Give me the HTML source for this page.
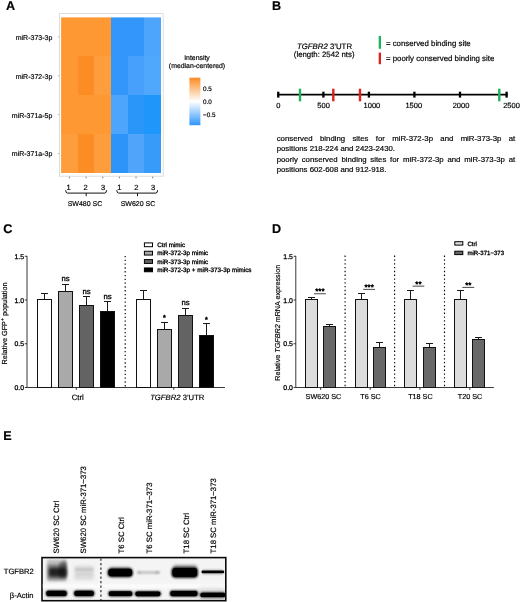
<!DOCTYPE html>
<html><head><meta charset="utf-8"><title>Figure</title>
<style>
html,body{margin:0;padding:0;background:#fff;}
body{width:520px;height:602px;overflow:hidden;}
svg{display:block;font-family:"Liberation Sans",Arial,sans-serif;fill:#000;}
svg text{stroke:#000;stroke-width:0.18px;text-rendering:geometricPrecision;}
.b{font-weight:bold;font-size:12.6px;fill:#000}
.i{font-style:italic}
#para{position:absolute;left:276.7px;top:0;width:238.5px;font-family:"Liberation Sans",Arial,sans-serif;font-size:7.8px;line-height:10px;color:#000;-webkit-text-stroke:0.18px #000;text-align:justify;}
#para p{margin:0 0 1.2px 0;}
#para span{display:block;white-space:nowrap;position:absolute;left:0;width:238.5px;}
#para .j{text-align:justify;text-align-last:justify;white-space:normal;}
</style></head><body>
<svg width="520" height="602" viewBox="0 0 520 602">
<defs>
<linearGradient id="cb" x1="0" y1="0" x2="0" y2="1">
<stop offset="0" stop-color="#fa8c23"/><stop offset="0.5" stop-color="#ffffff"/><stop offset="1" stop-color="#2f96fa"/>
</linearGradient>
<filter id="bl1" x="-30%" y="-80%" width="160%" height="260%"><feGaussianBlur stdDeviation="1.6"/></filter>
<filter id="bl2" x="-30%" y="-80%" width="160%" height="260%"><feGaussianBlur stdDeviation="0.9"/></filter>
<filter id="bl4" x="-5%" y="-100%" width="110%" height="300%"><feGaussianBlur stdDeviation="0.8"/></filter>
<filter id="bl5" x="-30%" y="-80%" width="160%" height="260%"><feGaussianBlur stdDeviation="0.5"/></filter>
<clipPath id="blotclip"><rect x="42.8" y="558.4" width="182.2" height="41.5"/></clipPath>
<filter id="bl3" x="-30%" y="-80%" width="160%" height="260%"><feGaussianBlur stdDeviation="2.4"/></filter>
</defs>

<text class="b" x="5.9" y="9.6">A</text>
<rect x="59.4" y="13.6" width="103.79999999999998" height="162.6" fill="#fff" stroke="#d6d6d6" stroke-width="0.8"/>
<rect x="61.1" y="17.4" width="16.90" height="38.60" fill="#fd9832"/>
<rect x="78" y="17.4" width="16.00" height="38.60" fill="#fd9832"/>
<rect x="94" y="17.4" width="17.00" height="38.60" fill="#fd9832"/>
<rect x="111" y="17.4" width="17.00" height="38.60" fill="#3396fa"/>
<rect x="128" y="17.4" width="16.00" height="38.60" fill="#3396fa"/>
<rect x="144" y="17.4" width="17.00" height="38.60" fill="#4da5fc"/>
<rect x="61.1" y="56" width="16.90" height="39.00" fill="#fd9832"/>
<rect x="78" y="56" width="16.00" height="39.00" fill="#fb8d24"/>
<rect x="94" y="56" width="17.00" height="39.00" fill="#fe9d3c"/>
<rect x="111" y="56" width="17.00" height="39.00" fill="#3396fa"/>
<rect x="128" y="56" width="16.00" height="39.00" fill="#46a0fc"/>
<rect x="144" y="56" width="17.00" height="39.00" fill="#50a8fd"/>
<rect x="61.1" y="95" width="16.90" height="39.00" fill="#fd9832"/>
<rect x="78" y="95" width="16.00" height="39.00" fill="#fd9832"/>
<rect x="94" y="95" width="17.00" height="39.00" fill="#fd9832"/>
<rect x="111" y="95" width="17.00" height="39.00" fill="#4da5fc"/>
<rect x="128" y="95" width="16.00" height="39.00" fill="#2a96fa"/>
<rect x="144" y="95" width="17.00" height="39.00" fill="#1e96fa"/>
<rect x="61.1" y="134" width="16.90" height="39.00" fill="#fe9d3c"/>
<rect x="78" y="134" width="16.00" height="39.00" fill="#fb8d24"/>
<rect x="94" y="134" width="17.00" height="39.00" fill="#fe9d3c"/>
<rect x="111" y="134" width="17.00" height="39.00" fill="#2d94fa"/>
<rect x="128" y="134" width="16.00" height="39.00" fill="#50a5fa"/>
<rect x="144" y="134" width="17.00" height="39.00" fill="#379bfa"/>
<text x="52.3" y="39.75" font-size="7" text-anchor="end">miR-373-3p</text>
<line x1="57.8" x2="59.2" y1="36.85" y2="36.85" stroke="#999" stroke-width="0.7"/>
<text x="52.3" y="78.65" font-size="7" text-anchor="end">miR-372-3p</text>
<line x1="57.8" x2="59.2" y1="75.75" y2="75.75" stroke="#999" stroke-width="0.7"/>
<text x="52.3" y="117.55" font-size="7" text-anchor="end">miR-371a-5p</text>
<line x1="57.8" x2="59.2" y1="114.65" y2="114.65" stroke="#999" stroke-width="0.7"/>
<text x="52.3" y="156.45" font-size="7" text-anchor="end">miR-371a-3p</text>
<line x1="57.8" x2="59.2" y1="153.55" y2="153.55" stroke="#999" stroke-width="0.7"/>
<line x1="69.42" x2="69.42" y1="176.7" y2="178.3" stroke="#555" stroke-width="0.8"/>
<text x="68.5" y="190.2" font-size="7.5" text-anchor="middle">1</text>
<line x1="86.08" x2="86.08" y1="176.7" y2="178.3" stroke="#555" stroke-width="0.8"/>
<text x="85.5" y="190.2" font-size="7.5" text-anchor="middle">2</text>
<line x1="102.73" x2="102.73" y1="176.7" y2="178.3" stroke="#555" stroke-width="0.8"/>
<text x="103" y="190.2" font-size="7.5" text-anchor="middle">3</text>
<line x1="119.38" x2="119.38" y1="176.7" y2="178.3" stroke="#555" stroke-width="0.8"/>
<text x="119.3" y="190.2" font-size="7.5" text-anchor="middle">1</text>
<line x1="136.03" x2="136.03" y1="176.7" y2="178.3" stroke="#555" stroke-width="0.8"/>
<text x="136.3" y="190.2" font-size="7.5" text-anchor="middle">2</text>
<line x1="152.68" x2="152.68" y1="176.7" y2="178.3" stroke="#555" stroke-width="0.8"/>
<text x="153.2" y="190.2" font-size="7.5" text-anchor="middle">3</text>
<path d="M65.7 190.2 Q65.7 193.1 67.5 193.1 L104.7 193.1 Q106.5 193.1 106.5 190.2 M86.2 193.1 L86.2 196.2" fill="none" stroke="#111" stroke-width="1"/>
<path d="M116.8 190.2 Q116.8 193.1 118.6 193.1 L155.79999999999998 193.1 Q157.6 193.1 157.6 190.2 M137.5 193.1 L137.5 196.2" fill="none" stroke="#111" stroke-width="1"/>
<text x="85" y="206.3" font-size="7" text-anchor="middle">SW480 SC</text>
<text x="138" y="206.3" font-size="7" text-anchor="middle">SW620 SC</text>
<text x="197" y="59.8" font-size="6.9" text-anchor="middle">Intensity</text>
<text x="197" y="68.2" font-size="6.9" text-anchor="middle">(median-centered)</text>
<rect x="189.4" y="77.7" width="11" height="47.5" fill="url(#cb)"/>
<text x="203" y="91.4" font-size="6.35">0.5</text>
<text x="203" y="104.10000000000001" font-size="6.35">0.0</text>
<text x="203" y="116.60000000000001" font-size="6.35">−0.5</text>
<text class="b" x="271.9" y="9.6">B</text>
<text x="324.5" y="48.5" font-size="7.8" text-anchor="middle"><tspan class="i">TGFBR2</tspan> 3’UTR</text>
<text x="324.2" y="57.3" font-size="7.8" text-anchor="middle">(length: 2542 nts)</text>
<rect x="378.7" y="35.9" width="2.3" height="12.9" fill="#1fb25a"/>
<rect x="378.7" y="52.6" width="2.3" height="11.6" fill="#e0201c"/>
<text x="385.9" y="45.8" font-size="7.85">= conserved binding site</text>
<text x="385.9" y="60.5" font-size="7.85">= poorly conserved binding site</text>
<line x1="277.4" x2="507.6" y1="94.6" y2="94.6" stroke="#000" stroke-width="1.7"/>
<rect x="277.1" y="91.7" width="2.3" height="5.9" fill="#000"/>
<text x="278.25" y="107.6" font-size="7.5" text-anchor="middle">0</text>
<rect x="322.25" y="91.7" width="2.3" height="5.9" fill="#000"/>
<text x="323.59999999999997" y="107.6" font-size="7.5" text-anchor="middle">500</text>
<rect x="367.75" y="91.7" width="2.3" height="5.9" fill="#000"/>
<text x="371.9" y="107.6" font-size="7.5" text-anchor="middle">1000</text>
<rect x="413.25" y="91.7" width="2.3" height="5.9" fill="#000"/>
<text x="413.79999999999995" y="107.6" font-size="7.5" text-anchor="middle">1500</text>
<rect x="458.85" y="91.7" width="2.3" height="5.9" fill="#000"/>
<text x="461.0" y="107.6" font-size="7.5" text-anchor="middle">2000</text>
<rect x="505.45000000000005" y="91.7" width="2.3" height="5.9" fill="#000"/>
<text x="503.2" y="107.6" font-size="7.5">2500</text>
<rect x="298.8" y="88.7" width="2.4" height="12.6" fill="#1fb25a"/>
<rect x="498.1" y="88.7" width="2.4" height="12.6" fill="#1fb25a"/>
<rect x="332.1" y="88.7" width="2.4" height="12.6" fill="#e0201c"/>
<rect x="358.8" y="88.7" width="2.4" height="12.6" fill="#e0201c"/>
<text class="b" x="3.3" y="233.1">C</text>
<path d="M27 255.85 L27 387.5 L225 387.5" fill="none" stroke="#222" stroke-width="0.9"/><line x1="24.8" x2="27" y1="387.5" y2="387.5" stroke="#222" stroke-width="0.9"/><text x="24.1" y="390.0" font-size="6.9" text-anchor="end" style="stroke-width:0.28px">0.0</text><line x1="24.8" x2="27" y1="343.75" y2="343.75" stroke="#222" stroke-width="0.9"/><text x="24.1" y="346.25" font-size="6.9" text-anchor="end" style="stroke-width:0.28px">0.5</text><line x1="24.8" x2="27" y1="300.0" y2="300.0" stroke="#222" stroke-width="0.9"/><text x="24.1" y="302.5" font-size="6.9" text-anchor="end" style="stroke-width:0.28px">1.0</text><line x1="24.8" x2="27" y1="256.25" y2="256.25" stroke="#222" stroke-width="0.9"/><text x="24.1" y="258.75" font-size="6.9" text-anchor="end" style="stroke-width:0.28px">1.5</text><line x1="76.3" x2="76.3" y1="387.5" y2="389.9" stroke="#222" stroke-width="0.9"/><line x1="173.8" x2="173.8" y1="387.5" y2="389.9" stroke="#222" stroke-width="0.9"/>
<line x1="125.2" x2="125.2" y1="255.9" y2="387.5" stroke="#000" stroke-width="1.15" stroke-dasharray="1.35 2.45"/>
<path d="M44.5 299.5 L44.5 293.5 M41.0 293.5 L48.0 293.5" stroke="#1a1a1a" stroke-width="1" fill="none"/><rect x="37.5" y="299.5" width="14" height="88.0" fill="#fff" stroke="#111" stroke-width="1"/>
<path d="M65.5 291.5 L65.5 284.5 M62.0 284.5 L69.0 284.5" stroke="#1a1a1a" stroke-width="1" fill="none"/><rect x="58.5" y="291.5" width="14" height="96.0" fill="#a9a9a9" stroke="#111" stroke-width="1"/>
<path d="M86.5 305.5 L86.5 296.5 M83.0 296.5 L90.0 296.5" stroke="#1a1a1a" stroke-width="1" fill="none"/><rect x="79.5" y="305.5" width="14" height="82.0" fill="#636363" stroke="#111" stroke-width="1"/>
<path d="M107.5 311.5 L107.5 301.5 M104.0 301.5 L111.0 301.5" stroke="#1a1a1a" stroke-width="1" fill="none"/><rect x="100.5" y="311.5" width="14" height="76.0" fill="#000" stroke="#111" stroke-width="1"/>
<path d="M143.5 299.5 L143.5 290.5 M140.0 290.5 L147.0 290.5" stroke="#1a1a1a" stroke-width="1" fill="none"/><rect x="136.5" y="299.5" width="14" height="88.0" fill="#fff" stroke="#111" stroke-width="1"/>
<path d="M164.5 329.5 L164.5 322.5 M161.0 322.5 L168.0 322.5" stroke="#1a1a1a" stroke-width="1" fill="none"/><rect x="157.5" y="329.5" width="14" height="58.0" fill="#a9a9a9" stroke="#111" stroke-width="1"/>
<path d="M185.5 315.5 L185.5 308.5 M182.0 308.5 L189.0 308.5" stroke="#1a1a1a" stroke-width="1" fill="none"/><rect x="178.5" y="315.5" width="14" height="72.0" fill="#636363" stroke="#111" stroke-width="1"/>
<path d="M206.5 335.5 L206.5 323.5 M203.0 323.5 L210.0 323.5" stroke="#1a1a1a" stroke-width="1" fill="none"/><rect x="199.5" y="335.5" width="14" height="52.0" fill="#000" stroke="#111" stroke-width="1"/>
<text x="65.6" y="280.9" font-size="7.7" text-anchor="middle" style="stroke-width:0.32px">ns</text>
<text x="86.6" y="294.15" font-size="7.7" text-anchor="middle" style="stroke-width:0.32px">ns</text>
<text x="107.6" y="299.15" font-size="7.7" text-anchor="middle" style="stroke-width:0.32px">ns</text>
<text x="185.6" y="305.4" font-size="7.7" text-anchor="middle" style="stroke-width:0.32px">ns</text>
<text x="164.5" y="320.05" font-size="7.2" text-anchor="middle" style="stroke-width:0.5px">*</text>
<text x="206.5" y="321.55" font-size="7.2" text-anchor="middle" style="stroke-width:0.5px">*</text>
<text x="77.8" y="400.2" font-size="7.7" text-anchor="middle">Ctrl</text>
<text x="177.3" y="400.2" font-size="7.7" text-anchor="middle"><tspan class="i">TGFBR2</tspan> 3’UTR</text>
<text transform="translate(6.9 323.4) rotate(-90)" font-size="7.3" text-anchor="middle">Relative GFP<tspan font-size="5" dy="-2.6">+</tspan><tspan dy="2.6"> population</tspan></text>
<rect x="144.4" y="242.9" width="8.1" height="3.8" fill="#fff" stroke="#000" stroke-width="1"/>
<text x="157.2" y="247.0" font-size="6.3" style="stroke-width:0.3px">Ctrl mimic</text>
<rect x="144.4" y="251.25" width="8.1" height="3.8" fill="#a9a9a9" stroke="#000" stroke-width="1"/>
<text x="157.2" y="255.35" font-size="6.3" style="stroke-width:0.3px">miR-372-3p mimic</text>
<rect x="144.4" y="259.6" width="8.1" height="3.8" fill="#636363" stroke="#000" stroke-width="1"/>
<text x="157.2" y="263.7" font-size="6.3" style="stroke-width:0.3px">miR-373-3p mimic</text>
<rect x="144.4" y="267.95000000000005" width="8.1" height="3.8" fill="#000" stroke="#000" stroke-width="1"/>
<text x="157.2" y="272.05" font-size="6.3" style="stroke-width:0.3px">miR-372-3p + miR-373-3p mimics</text>
<text class="b" x="271.9" y="233.1">D</text>
<path d="M295.8 255.85 L295.8 387.5 L493.8 387.5" fill="none" stroke="#222" stroke-width="0.9"/><line x1="293.6" x2="295.8" y1="387.5" y2="387.5" stroke="#222" stroke-width="0.9"/><text x="292.90000000000003" y="390.0" font-size="6.9" text-anchor="end" style="stroke-width:0.28px">0.0</text><line x1="293.6" x2="295.8" y1="343.75" y2="343.75" stroke="#222" stroke-width="0.9"/><text x="292.90000000000003" y="346.25" font-size="6.9" text-anchor="end" style="stroke-width:0.28px">0.5</text><line x1="293.6" x2="295.8" y1="300.0" y2="300.0" stroke="#222" stroke-width="0.9"/><text x="292.90000000000003" y="302.5" font-size="6.9" text-anchor="end" style="stroke-width:0.28px">1.0</text><line x1="293.6" x2="295.8" y1="256.25" y2="256.25" stroke="#222" stroke-width="0.9"/><text x="292.90000000000003" y="258.75" font-size="6.9" text-anchor="end" style="stroke-width:0.28px">1.5</text><line x1="320.7" x2="320.7" y1="387.5" y2="389.9" stroke="#222" stroke-width="0.9"/><line x1="370.2" x2="370.2" y1="387.5" y2="389.9" stroke="#222" stroke-width="0.9"/><line x1="419.9" x2="419.9" y1="387.5" y2="389.9" stroke="#222" stroke-width="0.9"/><line x1="469.8" x2="469.8" y1="387.5" y2="389.9" stroke="#222" stroke-width="0.9"/>
<line x1="345.1" x2="345.1" y1="255.6" y2="387.5" stroke="#000" stroke-width="1.15" stroke-dasharray="1.35 2.45"/>
<line x1="394.6" x2="394.6" y1="255.6" y2="387.5" stroke="#000" stroke-width="1.15" stroke-dasharray="1.35 2.45"/>
<line x1="444.5" x2="444.5" y1="255.6" y2="387.5" stroke="#000" stroke-width="1.15" stroke-dasharray="1.35 2.45"/>
<path d="M311.5 299.5 L311.5 297.5 M308.0 297.5 L315.0 297.5" stroke="#1a1a1a" stroke-width="1" fill="none"/><rect x="305.5" y="299.5" width="12" height="88.0" fill="#dcdcdc" stroke="#111" stroke-width="1"/>
<path d="M329.5 326.5 L329.5 324.5 M326.0 324.5 L333.0 324.5" stroke="#1a1a1a" stroke-width="1" fill="none"/><rect x="323.5" y="326.5" width="12" height="61.0" fill="#686868" stroke="#111" stroke-width="1"/>
<path d="M361.5 299.5 L361.5 293.5 M358.0 293.5 L365.0 293.5" stroke="#1a1a1a" stroke-width="1" fill="none"/><rect x="355.5" y="299.5" width="12" height="88.0" fill="#dcdcdc" stroke="#111" stroke-width="1"/>
<path d="M379.5 347.5 L379.5 342.5 M376.0 342.5 L383.0 342.5" stroke="#1a1a1a" stroke-width="1" fill="none"/><rect x="373.5" y="347.5" width="12" height="40.0" fill="#686868" stroke="#111" stroke-width="1"/>
<path d="M410.5 299.5 L410.5 290.5 M407.0 290.5 L414.0 290.5" stroke="#1a1a1a" stroke-width="1" fill="none"/><rect x="404.5" y="299.5" width="12" height="88.0" fill="#dcdcdc" stroke="#111" stroke-width="1"/>
<path d="M429.5 347.5 L429.5 343.5 M426.0 343.5 L433.0 343.5" stroke="#1a1a1a" stroke-width="1" fill="none"/><rect x="423.5" y="347.5" width="12" height="40.0" fill="#686868" stroke="#111" stroke-width="1"/>
<path d="M460.5 299.5 L460.5 290.5 M457.0 290.5 L464.0 290.5" stroke="#1a1a1a" stroke-width="1" fill="none"/><rect x="454.5" y="299.5" width="12" height="88.0" fill="#dcdcdc" stroke="#111" stroke-width="1"/>
<path d="M478.5 339.5 L478.5 337.5 M475.0 337.5 L482.0 337.5" stroke="#1a1a1a" stroke-width="1" fill="none"/><rect x="472.5" y="339.5" width="12" height="48.0" fill="#686868" stroke="#111" stroke-width="1"/>
<line x1="313.9" x2="325.8" y1="293.75" y2="293.75" stroke="#333" stroke-width="0.9"/>
<text x="319.85" y="294.25" font-size="8" text-anchor="middle" style="stroke-width:0.45px">***</text>
<line x1="363.2" x2="375" y1="289.4" y2="289.4" stroke="#333" stroke-width="0.9"/>
<text x="369.1" y="289.9" font-size="8" text-anchor="middle" style="stroke-width:0.45px">***</text>
<line x1="412.6" x2="424.3" y1="286.15" y2="286.15" stroke="#333" stroke-width="0.9"/>
<text x="418.45000000000005" y="286.65" font-size="8" text-anchor="middle" style="stroke-width:0.45px">**</text>
<line x1="462.3" x2="474.2" y1="287.4" y2="287.4" stroke="#333" stroke-width="0.9"/>
<text x="468.25" y="287.9" font-size="8" text-anchor="middle" style="stroke-width:0.45px">**</text>
<text x="323.4" y="398.9" font-size="7.2" text-anchor="middle">SW620 SC</text>
<text x="370.5" y="398.9" font-size="7.2" text-anchor="middle">T6 SC</text>
<text x="420.4" y="398.9" font-size="7.2" text-anchor="middle">T18 SC</text>
<text x="470" y="398.9" font-size="7.2" text-anchor="middle">T20 SC</text>
<text transform="translate(279.8 322.75) rotate(-90)" font-size="7.2" text-anchor="middle">Relative <tspan class="i">TGFBR2</tspan> mRNA expression</text>
<rect x="454.8" y="241.70000000000002" width="8" height="3.4" fill="#dcdcdc" stroke="#000" stroke-width="1"/>
<text x="467.4" y="245.6" font-size="6.1" style="stroke-width:0.3px">Ctrl</text>
<rect x="454.8" y="251.20000000000002" width="8" height="3.4" fill="#686868" stroke="#000" stroke-width="1"/>
<text x="467.4" y="255.1" font-size="6.1" style="stroke-width:0.3px">miR-371~373</text>
<text class="b" x="3.2" y="439.5">E</text>
<rect x="42" y="557.6" width="183.8" height="43.1" fill="#f4f4f4" stroke="#0a0a0a" stroke-width="1.6"/>
<text transform="translate(58.95 553.4) rotate(-90)" font-size="7.75">SW620 SC Ctrl</text>
<text transform="translate(86.05 553.4) rotate(-90)" font-size="7.75">SW620 SC miR-371~373</text>
<text transform="translate(124.05 553.4) rotate(-90)" font-size="7.75">T6 SC Ctrl</text>
<text transform="translate(152.15 553.4) rotate(-90)" font-size="7.75">T6 SC miR-371~373</text>
<text transform="translate(189.15 553.4) rotate(-90)" font-size="7.75">T18 SC Ctrl</text>
<text transform="translate(215.75 553.4) rotate(-90)" font-size="7.75">T18 SC miR-371~373</text>
<text x="3.8" y="574" font-size="7.6">TGFBR2</text>
<text x="9.8" y="597.8" font-size="7.6">β-Actin</text>
<g clip-path="url(#blotclip)">
<rect x="38" y="584.4" width="192" height="3.2" fill="#fdfdfd" filter="url(#bl4)"/>
<rect x="46.8" y="559.5" width="19.80" height="22.00" rx="1.5" ry="1.5" fill="#000" opacity="0.2" filter="url(#bl2)"/>
<rect x="47.5" y="564.5" width="19.10" height="15.00" rx="2" ry="2" fill="#000" opacity="0.38" filter="url(#bl1)"/>
<rect x="49" y="568" width="17.60" height="8.60" rx="2.5" ry="2.5" fill="#000" opacity="0.72" filter="url(#bl1)"/>
<rect x="59" y="562" width="7.80" height="16.00" rx="2" ry="2" fill="#000" opacity="0.3" filter="url(#bl2)"/>
<rect x="62" y="559.5" width="4.60" height="8.50" rx="1.5" ry="1.5" fill="#000" opacity="0.15" filter="url(#bl2)"/>
<rect x="74" y="565.5" width="20.00" height="14.50" rx="2" ry="2" fill="#000" opacity="0.09" filter="url(#bl1)"/>
<rect x="75" y="568.2" width="18.50" height="2.60" rx="1.2999999999999545" ry="1.2999999999999545" fill="#000" opacity="0.13" filter="url(#bl2)"/>
<rect x="75.5" y="573" width="17.50" height="2.00" rx="1.0" ry="1.0" fill="#000" opacity="0.06" filter="url(#bl2)"/>
<rect x="107.6" y="568.4" width="25.20" height="8.40" rx="3.5" ry="3.5" fill="#000" opacity="1" filter="url(#bl2)"/>
<rect x="108.5" y="568.8" width="23.50" height="7.50" rx="3" ry="3" fill="#000" opacity="1" filter="url(#bl5)"/>
<rect x="109" y="567" width="22.50" height="10.50" rx="3" ry="3" fill="#000" opacity="0.35" filter="url(#bl1)"/>
<rect x="137" y="571.2" width="22.80" height="2.60" rx="1.2999999999999545" ry="1.2999999999999545" fill="#000" opacity="0.22" filter="url(#bl2)"/>
<rect x="137" y="571.3" width="4.00" height="2.40" rx="1.2000000000000455" ry="1.2000000000000455" fill="#000" opacity="0.12" filter="url(#bl2)"/>
<rect x="155" y="571.3" width="4.50" height="2.40" rx="1.2000000000000455" ry="1.2000000000000455" fill="#000" opacity="0.15" filter="url(#bl2)"/>
<rect x="171.6" y="567.6" width="26.20" height="9.80" rx="3.5" ry="3.5" fill="#000" opacity="1" filter="url(#bl2)"/>
<rect x="172.5" y="568.1" width="24.50" height="8.70" rx="3" ry="3" fill="#000" opacity="1" filter="url(#bl5)"/>
<rect x="173" y="565" width="24.00" height="13.00" rx="3" ry="3" fill="#000" opacity="0.4" filter="url(#bl1)"/>
<rect x="201.5" y="570.6" width="22.70" height="2.60" rx="1.3000000000000114" ry="1.3000000000000114" fill="#000" opacity="1" filter="url(#bl5)"/>
<rect x="201.5" y="569.8" width="22.50" height="4.40" rx="2.2000000000000455" ry="2.2000000000000455" fill="#000" opacity="0.3" filter="url(#bl2)"/>
<rect x="45.8" y="590.4" width="21.40" height="6.00" rx="2.4" ry="2.4" fill="#000" opacity="1" filter="url(#bl2)"/>
<rect x="46.4" y="590.6999999999999" width="20.20" height="5.40" rx="2.2" ry="2.2" fill="#000" opacity="1" filter="url(#bl5)"/>
<rect x="73.8" y="590.4" width="20.60" height="6.00" rx="2.4" ry="2.4" fill="#000" opacity="1" filter="url(#bl2)"/>
<rect x="74.39999999999999" y="590.6999999999999" width="19.40" height="5.40" rx="2.2" ry="2.2" fill="#000" opacity="1" filter="url(#bl5)"/>
<rect x="108.2" y="591" width="24.60" height="5.40" rx="2.4" ry="2.4" fill="#000" opacity="1" filter="url(#bl2)"/>
<rect x="108.8" y="591.3" width="23.40" height="4.80" rx="2.2" ry="2.2" fill="#000" opacity="1" filter="url(#bl5)"/>
<rect x="134.8" y="591.2" width="26.20" height="5.30" rx="2.4" ry="2.4" fill="#000" opacity="1" filter="url(#bl2)"/>
<rect x="135.4" y="591.5" width="25.00" height="4.70" rx="2.2" ry="2.2" fill="#000" opacity="1" filter="url(#bl5)"/>
<rect x="169.8" y="590.6" width="28.20" height="6.00" rx="2.4" ry="2.4" fill="#000" opacity="1" filter="url(#bl2)"/>
<rect x="170.4" y="590.9" width="27.00" height="5.40" rx="2.2" ry="2.2" fill="#000" opacity="1" filter="url(#bl5)"/>
<rect x="199.8" y="592.4" width="26.20" height="5.00" rx="2.4" ry="2.4" fill="#000" opacity="1" filter="url(#bl2)"/>
<rect x="200.4" y="592.6999999999999" width="25.00" height="4.40" rx="2.2" ry="2.2" fill="#000" opacity="1" filter="url(#bl5)"/>
<rect x="198" y="588" width="28.00" height="12.00" rx="3" ry="3" fill="#000" opacity="0.1" filter="url(#bl3)"/>
</g>
<line x1="100.9" x2="100.9" y1="558.4" y2="600" stroke="#444" stroke-width="1.35" stroke-dasharray="2.3 2.2"/>
</svg>
<div id="para"><p><span class="j" style="top:134.1px">conserved binding sites for miR-372-3p and miR-373-3p at</span><span class="l" style="top:144.1px">positions 218-224 and 2423-2430.</span></p><p><span class="j" style="top:155.3px">poorly conserved binding sites for miR-372-3p and miR-373-3p at</span><span class="l" style="top:165.3px">positions 602-608 and 912-918.</span></p></div>
</body></html>
